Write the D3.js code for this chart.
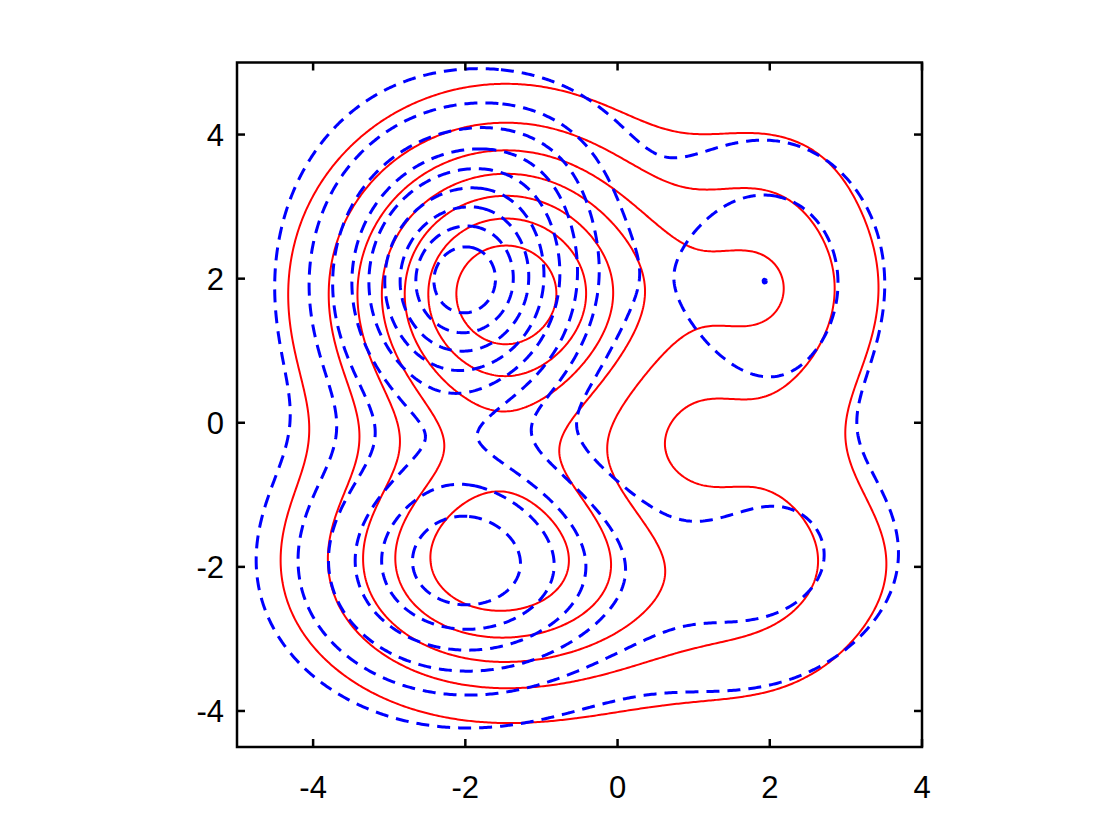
<!DOCTYPE html>
<html>
<head>
<meta charset="utf-8">
<script src="https://cdn.jsdelivr.net/npm/d3@7"></script>
<style>
  html, body { margin: 0; padding: 0; background: #fff; }
  svg { display: block; }
</style>
</head>
<body>
<svg id="chart" width="1120" height="840"></svg>
<script>
// ---- data: each density surface is described by Gaussian bumps ----
// red (solid) surface
const redAmp = [7.75, 5.6, 2.15, 1.2, 1.1, 0.5, 0.7];
const redCx  = [-1.47, -1.62, 2.0, 2.1, 2.1, 2.0, 1.2];
const redCy  = [1.81, -1.98, 2.0, -1.95, -0.3, 3.6, -3.2];
const redSx  = [1.41, 1.5, 1.0, 1.4, 0.9, 0.9, 1.4];
const redSy  = [1.43, 1.16, 1.05, 0.9, 2.0, 0.7, 0.8];
const redLevels = [1, 2, 3, 4, 5, 6, 7];

// blue (dashed) surface
const blueAmp = [8.0, 1.0, 1.0, 0.9, 6.5, 2.95, 1.55, 0.7, 0.6, -0.35];
const blueCx  = [-1.95, -2.9, -2.0, -1.0, -1.99, 1.95, 1.85, 2.5, 1.4, -1.4];
const blueCy  = [2.0, 1.6, 1.95, 3.7, -2.0, 2.0, -1.95, -1.2, -3.3, 0.0];
const blueSx  = [1.12, 1.2, 0.5, 0.9, 1.4, 1.05, 1.42, 1.0, 1.2, 0.7];
const blueSy  = [1.3, 2.0, 0.5, 0.8, 1.15, 1.3, 1.0, 1.3, 0.8, 0.5];
const blueLevels = [1, 2, 3, 4, 5, 6, 7, 8, 9];

const xTicks = [-4, -2, 0, 2, 4];
const yTicks = [-4, -2, 0, 2, 4];
const xDomain = [-5, 4];
const yDomain = [-4.5, 5];

// ---- layout ----
const L = 237, R = 922, T = 62.5, B = 747;
const svg = d3.select("#chart");
const x = d3.scaleLinear().domain(xDomain).range([L, R]);
const y = d3.scaleLinear().domain(yDomain).range([B, T]);

// grid
const gx0 = -5.6, gx1 = 4.6, gy0 = -5.1, gy1 = 5.6, step = 0.025;
const nx = Math.round((gx1 - gx0) / step) + 1;
const ny = Math.round((gy1 - gy0) / step) + 1;

function field(amp, cx, cy, sx, sy) {
  const v = new Float64Array(nx * ny);
  for (let j = 0; j < ny; j++) {
    const yy = gy0 + j * step;
    for (let i = 0; i < nx; i++) {
      const xx = gx0 + i * step;
      let s = 0;
      for (let k = 0; k < amp.length; k++) {
        const dx = (xx - cx[k]) / sx[k], dy = (yy - cy[k]) / sy[k];
        s += amp[k] * Math.exp(-0.5 * (dx * dx + dy * dy));
      }
      v[j * nx + i] = s;
    }
  }
  return v;
}

const proj = d3.geoTransform({
  point: function(px, py) {
    this.stream.point(x(gx0 + (px - 0.5) * step), y(gy0 + (py - 0.5) * step));
  }
});
const path = d3.geoPath(proj);

svg.append("defs").append("clipPath").attr("id", "clip")
  .append("rect").attr("x", L).attr("y", T).attr("width", R - L).attr("height", B - T);

const plot = svg.append("g").attr("clip-path", "url(#clip)");

function drawSeries(amp, cx, cy, sx, sy, levels, color, width, dash) {
  const vals = field(amp, cx, cy, sx, sy);
  const conts = d3.contours().size([nx, ny]).thresholds(levels)(vals);
  plot.append("g").selectAll("path").data(conts).join("path")
    .attr("d", path)
    .attr("fill", "none")
    .attr("stroke", color)
    .attr("stroke-width", width)
    .attr("stroke-dasharray", dash)
    .attr("stroke-linejoin", "round");
}

drawSeries(redAmp, redCx, redCy, redSx, redSy, redLevels, "#ff0000", 2, null);
drawSeries(blueAmp, blueCx, blueCy, blueSx, blueSy, blueLevels, "#0000ff", 3, "13,8");

// ---- axes box ----
const axes = svg.append("g").attr("font-family", "'Liberation Sans', Arial, Helvetica, sans-serif")
  .attr("font-size", 31).attr("fill", "#000");
axes.append("rect").attr("x", L).attr("y", T).attr("width", R - L).attr("height", B - T)
  .attr("fill", "none").attr("stroke", "#000").attr("stroke-width", 2.5);

const tl = 8;
xTicks.forEach(t => {
  const px = x(t);
  axes.append("line").attr("x1", px).attr("x2", px).attr("y1", B).attr("y2", B - tl).attr("stroke", "#000").attr("stroke-width", 2.5);
  axes.append("line").attr("x1", px).attr("x2", px).attr("y1", T).attr("y2", T + tl).attr("stroke", "#000").attr("stroke-width", 2.5);
  axes.append("text").attr("x", px).attr("y", B + 51).attr("text-anchor", "middle").text(t);
});
yTicks.forEach(t => {
  const py = y(t);
  axes.append("line").attr("x1", L).attr("x2", L + tl).attr("y1", py).attr("y2", py).attr("stroke", "#000").attr("stroke-width", 2.5);
  axes.append("line").attr("x1", R).attr("x2", R - tl).attr("y1", py).attr("y2", py).attr("stroke", "#000").attr("stroke-width", 2.5);
  axes.append("text").attr("x", L - 13).attr("y", py).attr("dy", "0.36em").attr("text-anchor", "end").text(t);
});
</script>
</body>
</html>
